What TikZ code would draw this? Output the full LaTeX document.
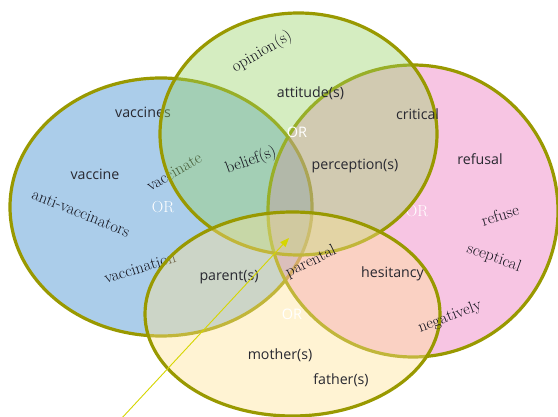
\documentclass[tikz,border=0pt]{standalone}
\usepackage{fontspec}
\newfontfamily\lblsans{Open Sans}
\usetikzlibrary{arrows.meta}
\definecolor{blueF}{RGB}{171,205,234}
\definecolor{pinkF}{RGB}{235,112,187}
\definecolor{greenF}{RGB}{152,210,102}
\definecolor{yellowF}{RGB}{255,227,147}
\definecolor{edgeC}{RGB}{153,153,0}
\definecolor{arrowC}{RGB}{214,214,0}
\definecolor{txtC}{RGB}{40,40,48}
\definecolor{serifC}{RGB}{20,20,30}
\begin{document}
\begin{tikzpicture}[x=1pt,y=-1pt,
  setring/.style={draw=edgeC,line width=3.2pt},
  overset/.style={setring,fill opacity=0.4},
  sanslbl/.style={font=\lblsans\fontsize{14.2}{16}\selectfont,text=txtC,inner sep=0pt},
  seriflbl/.style={font=\fontsize{16.5}{18}\selectfont,text=serifC,inner sep=0pt},
  orsans/.style={font=\lblsans\fontsize{14.5}{16}\selectfont,text=white,inner sep=0pt},
  orserif/.style={font=\fontsize{16}{18}\selectfont,text=white,inner sep=0pt},
  pointer/.style={draw=arrowC,line width=0.9pt,-{Triangle[length=9pt,width=7pt]}}]
\useasboundingbox (0,0) rectangle (558,417);
\fill[white] (0,0) rectangle (558,417);
% blue set
\draw[setring,fill=blueF] (161,207) ellipse [x radius=151,y radius=129];
\node[orserif] (orblue) at (163,207) {OR};
\node[sanslbl] (vaccines) at (143,112) {vaccines};
\node[sanslbl] (vaccine) at (95,174) {vaccine};
\node[seriflbl,rotate=30] (vaccinate) at (174,172) {vaccinate};
\node[seriflbl,rotate=-22] (antivac) at (81,213) {anti-vaccinators};
\node[seriflbl,rotate=17] (vaccination) at (140,268) {vaccination};
% pink set
\draw[overset,fill=pinkF] (413,211) ellipse [x radius=145,y radius=146];
\node[orserif] (orpink) at (417,211) {OR};
% green set
\draw[overset,fill=greenF] (298.5,134) ellipse [x radius=138.5,y radius=121];
\node[orsans] (orgreen) at (297,132) {OR};
% yellow set
\draw[overset,fill=yellowF] (292.5,314) ellipse [x radius=147.5,y radius=102];
\node[orsans] (oryellow) at (292,314) {OR};
% remaining labels
\node[seriflbl,rotate=30] (opinion) at (262,52) {opinion(s)};
\node[sanslbl] (attitude) at (310.5,93) {attitude(s)};
\node[sanslbl] (critical) at (417.5,114) {critical};
\node[seriflbl,rotate=20] (belief) at (251,161) {belief(s)};
\node[sanslbl] (perception) at (355,166) {perception(s)};
\node[sanslbl] (refusal) at (480,159) {refusal};
\node[seriflbl,rotate=17] (refuse) at (500,215) {refuse};
\node[seriflbl,rotate=-20] (sceptical) at (494,258) {sceptical};
\node[sanslbl] (parents) at (229,277) {parent(s)};
\node[seriflbl,rotate=26] (parental) at (311,262) {parental};
\node[sanslbl] (hesitancy) at (392.5,274) {hesitancy};
\node[seriflbl,rotate=21] (negatively) at (450,317) {negatively};
\node[sanslbl] (mother) at (280,355) {mother(s)};
\node[sanslbl] (father) at (341,380) {father(s)};
% pointer
\coordinate (ptrstart) at (121,419);
\coordinate (ptrtip) at (289,238);
\draw[pointer] (ptrstart) -- (ptrtip);
\end{tikzpicture}
\end{document}
